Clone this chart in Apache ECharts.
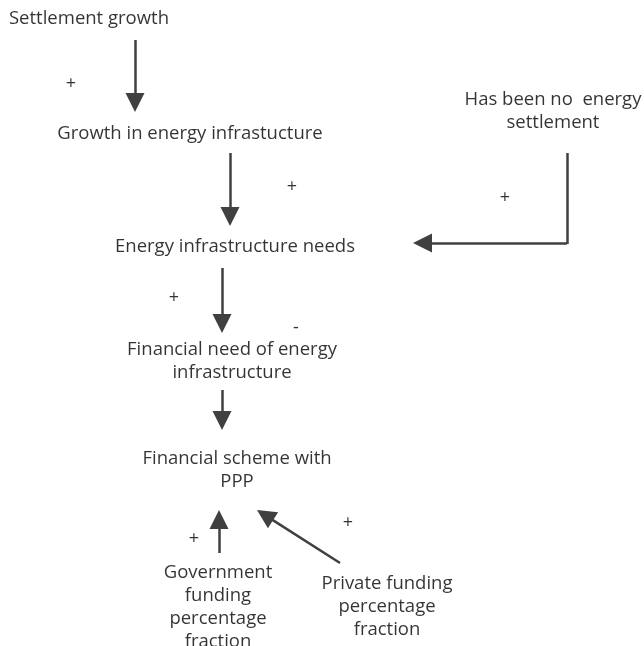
<!DOCTYPE html>
<html>
<head>
<meta charset="utf-8">
<script src="https://cdn.jsdelivr.net/npm/echarts@6/dist/echarts.min.js"></script>
<style>
  html, body { margin: 0; padding: 0; background: #fff; }
  #chart { width: 644px; height: 646px; }
</style>
</head>
<body>
<div id="chart"></div>
<script>
// node labels of the causal loop diagram, with their centre positions
const nodeNames = [
  'Settlement growth',
  'Growth in energy infrastucture',
  'Has been no  energy\nsettlement',
  'Energy infrastructure needs',
  'Financial need of energy\ninfrastructure',
  'Financial scheme with\nPPP',
  'Government\nfunding\npercentage\nfraction',
  'Private funding\npercentage\nfraction'
]
const nodeX = [89, 190, 553, 235, 232, 237, 218, 387]
const nodeY = [19, 134, 111, 247, 361, 470, 607, 607]

// polarity signs beside the links
const signText = ['+', '+', '+', '+', '-', '+', '+']
const signX = [71, 292, 505, 174, 296, 194, 348]
const signY = [84, 187, 198, 298, 328, 539, 523]

// links ending in an arrow head (start -> tip)
const arrowLinks = [
  [[135, 40], [135, 112]],
  [[230, 153], [230, 226]],
  [[567, 243], [413, 243]],
  [[222, 268], [222, 333]],
  [[222, 390], [222, 430]],
  [[219, 553], [219, 510]],
  [[340, 563], [257, 510]]
]
// plain segments (first leg of the elbow link)
const plainLinks = [
  [[567, 153], [567, 244]]
]

const HEAD = [18, 19]

// the triangle head is centred on the line end, so stop the line
// half a head short of the tip (axis units are 1:1 with pixels here)
const toHeadCentre = ([a, b]) => {
  const dx = b[0] - a[0]
  const dy = b[1] - a[1]
  const len = Math.sqrt(dx * dx + dy * dy)
  const k = HEAD[1] / 2 / len
  return [a, [b[0] - dx * k, b[1] - dy * k]]
}

const chart = echarts.init(document.getElementById('chart'))

const textFont = {
  fontFamily: 'Open Sans',
  fontSize: 18.5,
  color: '#000',
  lineHeight: 23
}
const linkStyle = { color: '#404040', width: 2.5, opacity: 1, curveness: 0 }

const option = {
  animation: false,
  backgroundColor: '#fff',
  grid: { left: 0, right: 0, top: 0, bottom: 0 },
  xAxis: { type: 'value', min: 0, max: 644, show: false },
  yAxis: { type: 'value', min: 0, max: 646, inverse: true, show: false },
  series: [
    {
      type: 'lines',
      coordinateSystem: 'cartesian2d',
      symbol: ['none', 'triangle'],
      symbolSize: HEAD,
      lineStyle: linkStyle,
      data: arrowLinks.map(p => ({ coords: toHeadCentre(p) })),
      z: 2
    },
    {
      type: 'lines',
      coordinateSystem: 'cartesian2d',
      symbol: 'none',
      lineStyle: linkStyle,
      data: plainLinks.map(p => ({ coords: p })),
      z: 2
    },
    {
      type: 'scatter',
      symbolSize: 0,
      data: nodeNames.map((n, i) => ({ name: n, value: [nodeX[i], nodeY[i]] })),
      label: {
        show: true,
        position: 'inside',
        align: 'center',
        verticalAlign: 'middle',
        formatter: p => p.name,
        ...textFont
      },
      z: 3
    },
    {
      type: 'scatter',
      symbolSize: 0,
      data: signText.map((s, i) => ({ name: s, value: [signX[i], signY[i]] })),
      label: {
        show: true,
        position: 'inside',
        formatter: p => p.name,
        ...textFont,
        fontSize: 18
      },
      z: 3
    }
  ]
}

chart.setOption(option)

window.addEventListener('resize', () => {
  chart.resize()
})
</script>
</body>
</html>
